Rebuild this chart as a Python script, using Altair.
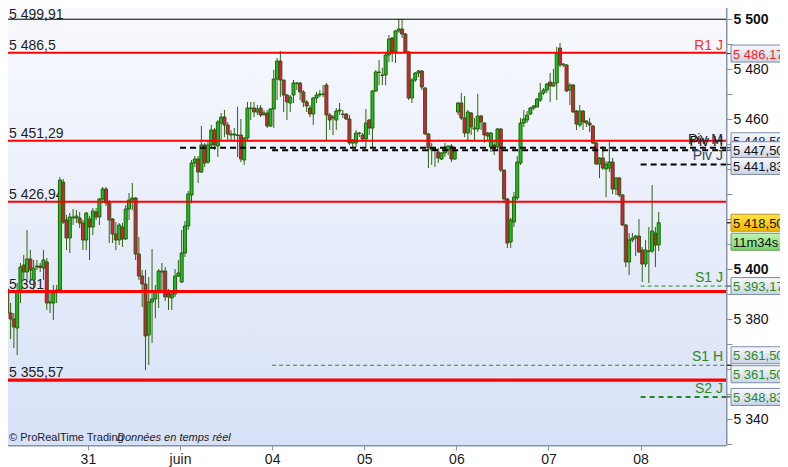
import altair as alt
import pandas as pd

FONT = "Liberation Sans"

# ---------------- candle data (30-min bars, CAC futures) ----------------
opens = [
    5398.4, 5392.0, 5382.4, 5380.0, 5376.4, 5390.8, 5401.6, 5398.8, 5404.0, 5395.6,
    5400.8, 5401.2, 5400.4, 5402.8, 5386.4, 5386.4, 5391.2, 5391.6, 5434.8, 5419.6,
    5412.4, 5420.4, 5420.4, 5420.4, 5418.4, 5411.6, 5420.0, 5416.8, 5422.8, 5420.8,
    5428.0, 5432.0, 5426.4, 5420.0, 5414.0, 5411.6, 5416.8, 5412.0, 5424.0, 5427.6,
    5428.4, 5406.0, 5397.2, 5394.0, 5373.6, 5386.8, 5388.0, 5390.8, 5398.8, 5399.2,
    5390.4, 5388.4, 5390.0, 5397.2, 5394.8, 5406.4, 5417.2, 5429.6, 5442.4, 5444.0,
    5438.8, 5449.6, 5442.8, 5449.6, 5455.6, 5449.2, 5458.4, 5460.8, 5457.6, 5454.0,
    5453.6, 5453.4, 5453.6, 5443.6, 5452.4, 5464.2, 5464.4, 5462.8, 5464.4, 5461.6,
    5462.4, 5457.2, 5464.0, 5476.0, 5483.2, 5475.6, 5469.6, 5466.4, 5469.6, 5474.2,
    5474.4, 5470.8, 5466.8, 5464.4, 5462.0, 5468.4, 5469.6, 5469.8, 5473.6, 5461.6,
    5460.4, 5459.6, 5463.2, 5461.8, 5462.0, 5460.0, 5450.4, 5450.4, 5454.2, 5453.6,
    5452.0, 5459.6, 5456.4, 5471.2, 5478.6, 5477.4, 5477.6, 5485.6, 5492.4, 5486.8,
    5495.2, 5496.0, 5494.0, 5486.8, 5468.4, 5475.6, 5478.4, 5479.2, 5472.4, 5454.0,
    5447.6, 5447.8, 5446.8, 5444.0, 5446.4, 5447.6, 5449.2, 5444.0, 5462.8, 5466.4,
    5460.4, 5454.4, 5462.4, 5456.0, 5456.0, 5461.2, 5458.4, 5454.4, 5448.8, 5449.6,
    5448.8, 5456.0, 5439.6, 5428.0, 5410.8, 5418.8, 5428.4, 5442.4, 5458.4, 5459.6,
    5462.0, 5464.4, 5464.8, 5467.6, 5470.4, 5471.6, 5474.8, 5473.2, 5474.4, 5488.4,
    5481.6, 5481.6, 5471.6, 5473.6, 5463.2, 5457.6, 5463.2, 5459.2, 5458.4, 5457.2,
    5450.4, 5442.0, 5444.4, 5440.0, 5440.4, 5442.8, 5432.0, 5436.4, 5429.6, 5417.6,
    5402.8, 5411.6, 5412.4, 5413.2, 5407.6, 5402.0, 5407.0, 5407.2, 5414.4, 5409.6,
]
highs = [
    5404.0, 5393.0, 5386.4, 5382.4, 5394.4, 5402.4, 5405.6, 5415.6, 5407.6, 5403.6,
    5403.6, 5402.4, 5407.6, 5404.4, 5391.6, 5393.6, 5393.6, 5436.8, 5436.0, 5421.6,
    5422.4, 5424.0, 5423.6, 5422.8, 5419.6, 5422.8, 5421.2, 5424.4, 5424.4, 5428.4,
    5432.8, 5432.8, 5427.6, 5420.4, 5418.8, 5418.4, 5418.4, 5425.6, 5430.4, 5434.4,
    5428.8, 5412.8, 5399.6, 5399.6, 5396.8, 5408.0, 5393.6, 5400.0, 5402.4, 5400.8,
    5392.0, 5390.8, 5400.0, 5403.6, 5415.6, 5419.2, 5431.2, 5443.6, 5445.2, 5445.2,
    5457.2, 5450.4, 5451.6, 5457.6, 5456.4, 5459.6, 5462.4, 5463.6, 5458.8, 5455.6,
    5456.4, 5464.8, 5460.0, 5452.8, 5466.8, 5466.8, 5466.8, 5465.6, 5465.6, 5463.6,
    5463.6, 5464.4, 5479.6, 5484.4, 5487.2, 5475.6, 5470.0, 5469.6, 5475.6, 5474.8,
    5474.8, 5471.6, 5467.6, 5465.6, 5468.8, 5470.8, 5471.6, 5473.6, 5474.4, 5462.4,
    5461.6, 5464.4, 5466.4, 5463.6, 5462.4, 5461.6, 5452.0, 5455.6, 5454.8, 5454.4,
    5464.0, 5460.0, 5471.6, 5479.6, 5483.6, 5480.4, 5486.4, 5493.6, 5492.8, 5495.6,
    5500.0, 5500.0, 5494.4, 5487.2, 5476.4, 5478.8, 5479.6, 5479.6, 5472.8, 5454.4,
    5450.4, 5448.8, 5448.4, 5446.8, 5450.4, 5449.6, 5450.0, 5448.4, 5466.8, 5470.4,
    5469.2, 5463.6, 5462.8, 5460.4, 5470.0, 5461.6, 5458.8, 5454.8, 5454.8, 5451.6,
    5456.4, 5456.4, 5439.6, 5428.4, 5420.4, 5430.8, 5445.2, 5460.4, 5463.6, 5463.2,
    5464.8, 5465.6, 5468.4, 5474.4, 5472.4, 5474.4, 5478.4, 5480.0, 5488.8, 5490.4,
    5482.4, 5482.0, 5474.4, 5474.0, 5463.6, 5465.6, 5463.6, 5459.6, 5460.4, 5457.6,
    5450.8, 5444.8, 5449.2, 5443.2, 5450.8, 5444.4, 5436.8, 5436.8, 5430.0, 5418.0,
    5414.4, 5414.4, 5413.6, 5420.0, 5408.8, 5411.6, 5416.8, 5433.6, 5416.8, 5422.8,
]
lows = [
    5379.6, 5377.0, 5372.0, 5368.4, 5365.6, 5386.4, 5395.6, 5395.6, 5395.6, 5391.6,
    5399.6, 5398.8, 5395.6, 5383.6, 5382.4, 5379.6, 5386.4, 5390.4, 5418.0, 5407.6,
    5406.4, 5417.6, 5418.4, 5416.4, 5407.6, 5407.6, 5403.6, 5413.6, 5419.6, 5417.6,
    5426.4, 5425.2, 5410.4, 5410.4, 5407.6, 5409.6, 5408.8, 5411.6, 5419.6, 5423.6,
    5403.6, 5395.6, 5384.8, 5359.6, 5361.6, 5370.4, 5380.4, 5384.4, 5390.4, 5387.2,
    5383.6, 5383.6, 5388.8, 5396.8, 5394.4, 5404.8, 5415.6, 5426.4, 5440.8, 5434.4,
    5438.4, 5440.8, 5442.0, 5448.8, 5447.6, 5444.8, 5451.6, 5452.8, 5451.6, 5451.6,
    5450.8, 5444.8, 5442.8, 5441.6, 5451.6, 5459.6, 5460.8, 5461.6, 5460.8, 5461.6,
    5456.4, 5456.8, 5456.4, 5467.6, 5468.8, 5462.8, 5459.6, 5462.8, 5466.4, 5471.6,
    5467.6, 5464.8, 5462.8, 5460.8, 5457.6, 5466.4, 5468.8, 5468.8, 5451.6, 5455.6,
    5453.6, 5455.6, 5461.6, 5460.4, 5459.6, 5449.6, 5448.8, 5448.8, 5452.8, 5450.8,
    5448.4, 5453.6, 5448.8, 5470.8, 5473.6, 5473.6, 5473.6, 5482.8, 5482.8, 5482.4,
    5494.4, 5492.4, 5486.4, 5467.6, 5466.4, 5474.8, 5476.8, 5471.6, 5453.6, 5440.4,
    5441.6, 5440.8, 5442.4, 5443.6, 5444.8, 5445.6, 5442.8, 5443.6, 5461.6, 5459.6,
    5452.8, 5451.6, 5453.6, 5451.6, 5454.8, 5455.6, 5450.4, 5451.6, 5446.8, 5445.6,
    5447.6, 5438.8, 5426.4, 5408.4, 5408.4, 5416.8, 5427.6, 5441.6, 5456.8, 5458.4,
    5461.6, 5463.6, 5464.8, 5466.8, 5469.6, 5470.4, 5466.8, 5472.8, 5467.6, 5480.8,
    5480.8, 5470.8, 5465.6, 5462.4, 5455.6, 5456.8, 5455.6, 5456.8, 5454.8, 5450.0,
    5441.6, 5436.4, 5439.6, 5428.8, 5438.8, 5430.0, 5429.6, 5428.8, 5417.2, 5400.8,
    5397.6, 5410.8, 5405.2, 5406.4, 5394.8, 5400.8, 5394.4, 5406.4, 5400.8, 5407.2,
]
closes = [
    5392.0, 5382.4, 5380.0, 5376.8, 5390.8, 5400.8, 5398.8, 5404.0, 5399.6, 5400.4,
    5401.2, 5400.6, 5403.6, 5386.4, 5386.8, 5390.4, 5391.6, 5435.6, 5418.8, 5412.4,
    5420.8, 5420.8, 5421.2, 5418.4, 5411.6, 5422.4, 5416.8, 5423.2, 5420.8, 5428.0,
    5432.0, 5426.4, 5419.6, 5414.0, 5411.6, 5417.6, 5412.0, 5424.0, 5427.6, 5428.4,
    5406.0, 5397.2, 5394.0, 5373.2, 5386.8, 5388.0, 5390.8, 5399.2, 5399.2, 5388.8,
    5388.8, 5390.0, 5397.2, 5398.4, 5406.4, 5417.2, 5430.0, 5442.4, 5444.0, 5438.8,
    5449.6, 5442.4, 5449.6, 5455.6, 5449.6, 5458.8, 5460.8, 5457.6, 5454.0, 5453.6,
    5454.0, 5453.6, 5444.0, 5452.4, 5464.4, 5464.4, 5462.8, 5464.0, 5461.6, 5462.4,
    5457.2, 5464.0, 5476.0, 5483.2, 5475.6, 5469.6, 5466.8, 5468.8, 5474.4, 5474.4,
    5470.8, 5466.8, 5465.2, 5462.0, 5468.4, 5469.6, 5470.0, 5470.0, 5461.6, 5459.6,
    5460.8, 5463.2, 5463.6, 5462.0, 5460.0, 5450.4, 5451.6, 5454.4, 5454.4, 5452.0,
    5458.4, 5456.4, 5471.2, 5478.8, 5478.8, 5477.6, 5485.6, 5492.0, 5486.8, 5495.2,
    5496.0, 5494.0, 5486.8, 5468.4, 5475.6, 5478.4, 5479.2, 5472.8, 5454.0, 5448.4,
    5448.4, 5448.0, 5444.4, 5446.4, 5448.8, 5449.2, 5444.0, 5447.6, 5466.4, 5460.4,
    5454.4, 5462.8, 5456.8, 5456.4, 5461.2, 5458.8, 5453.6, 5453.2, 5454.4, 5448.4,
    5456.0, 5439.6, 5428.0, 5410.4, 5419.6, 5428.8, 5442.8, 5458.4, 5460.0, 5461.6,
    5464.4, 5465.2, 5468.0, 5470.4, 5471.6, 5474.0, 5473.2, 5474.4, 5486.4, 5481.6,
    5482.0, 5471.2, 5473.6, 5462.8, 5458.0, 5463.2, 5458.8, 5458.4, 5457.6, 5450.4,
    5442.0, 5444.4, 5440.4, 5442.0, 5442.8, 5432.0, 5436.4, 5429.6, 5417.6, 5402.8,
    5411.6, 5412.4, 5413.2, 5406.8, 5402.0, 5407.6, 5407.2, 5415.2, 5409.6, 5418.5,
]

# ---------------- x axis: day boundaries ----------------
day_labels = ["31", "juin", "04", "05", "06", "07", "08"]
day_first_bar = [26, 54, 82, 110, 138, 166, 194]

# ---------------- horizontal levels ----------------
left_levels = [5499.91, 5486.5, 5451.29, 5426.94, 5391.0, 5355.57]
left_texts = ["5 499,91", "5 486,5", "5 451,29", "5 426,94", "5 391", "5 355,57"]
left_dy = [-0.5, -3, -3, -3, -3, -3]  # style: vertical nudge of each label
black_thin_levels = [5499.91]
red_levels = [5486.5, 5451.29, 5426.94]
red_thick_levels = [5391.0, 5355.57]

piv_black_values = [5448.5, 5447.5, 5441.83]
piv_black_from = ["juin", "04", "08"]
sup_thin_values = [5393.17, 5361.5]
sup_thin_from = ["08", "04"]
sup_thick_values = [5348.83]
sup_thick_from = ["08"]

tag_texts = ["R1 J", "Piv H", "Piv M", "Piv J", "S1 J", "S1 H", "S2 J"]
tag_values = [5486.17, 5447.5, 5448.5, 5441.83, 5393.17, 5361.5, 5348.83]
tag_colors = ["#ff2b2b", "#111111", "#1c2440", "#3a4258", "#2a8a22", "#2a8a22", "#2a8a22"]

box_texts = ["5 486,17", "5 448,50", "5 447,50", "5 441,83", "5 418,50", "11m34s",
             "5 393,17", "5 361,50", "5 361,50", "5 348,83"]
box_values = [5486.17, 5448.5, 5447.5, 5441.83, 5418.5, 5418.5,
              5393.17, 5361.5, 5361.5, 5348.83]
box_kinds = ["plain", "plain", "plain", "plain", "last", "timer",
             "plain", "plain", "plain", "plain"]
# styling (pixel shifts used to keep stacked tags apart, text colours)
box_shift_px = [0, -6.5, 0, 1.5, 0, 19, 0, -10, 9, 0]
box_text_colors = ["#ff2020", "#1c2440", "#111111", "#111111", "#111111", "#111111",
                   "#2a8a22", "#2a8a22", "#2a8a22", "#2a8a22"]

y_tick_values = list(range(5330, 5501, 10))
y_label_values = [5340, 5380, 5400, 5460, 5480, 5500]

# ---------------- geometry ----------------
W, H = 726, 445
PPU = 2.5  # pixels per index point on the price scale
X_DOM = [-1.2158, 219.453]
Y_DOM = [5329.6, 5507.6]

GREEN = "#14c414"
RED = "#e3173f"
OUTLINE = "#2c5a12"
WICK = "#2f6410"
AXIS_GREY = "#8794a8"

n = min(len(opens), len(highs), len(lows), len(closes))
candles = pd.DataFrame({
    "i": list(range(n)),
    "open": opens[:n], "high": highs[:n], "low": lows[:n], "close": closes[:n],
})
candles["dir"] = ["up" if c >= o else "down" for o, c in zip(candles["open"], candles["close"])]

day_ticks = [b - 0.5 for b in day_first_bar]
day_pos = dict(zip(day_labels, day_ticks))

x_label_expr = "[" + ",".join("'" + s + "'" for s in day_labels) + "][indexof([" + \
    ",".join(str(t) for t in day_ticks) + "], datum.value)]"
y_label_expr = "indexof([" + ",".join(str(v) for v in y_label_values) + \
    "], datum.value) >= 0 ? replace(format(datum.value, ','), ',', ' ') : ''"

xaxis = alt.Axis(values=day_ticks, labelExpr=x_label_expr, grid=False, title=None,
                 orient="bottom", tickSize=5, tickColor=AXIS_GREY, tickWidth=1,
                 domainColor=AXIS_GREY, domainWidth=2, labelFont=FONT, labelFontSize=14,
                 labelColor="#1a1a1a", labelPadding=2, labelFlush=False, labelOverlap=False,
                 labelFontWeight={"condition": {"test": "datum.label == 'juin'", "value": "bold"},
                                  "value": "normal"})
yaxis = alt.Axis(values=y_tick_values, labelExpr=y_label_expr, grid=False, title=None,
                 orient="right", tickSize=6, tickColor=AXIS_GREY, tickWidth=1,
                 domainColor=AXIS_GREY, domainWidth=2, labelFont=FONT, labelFontSize=14,
                 labelColor="#111111", labelPadding=1, labelFlush=False, labelOverlap=False,
                 labelBound=False, labelAlign="left", labelBaseline="middle",
                 labelFontWeight={"condition": {"test": "datum.value % 100 == 0", "value": "bold"},
                                  "value": "normal"})

xscale = alt.Scale(domain=X_DOM, nice=False, zero=False, padding=0)
yscale = alt.Scale(domain=Y_DOM, nice=False, zero=False, padding=0)


def X(f):
    return alt.X(f, type="quantitative", scale=xscale, axis=xaxis)


def Y(f):
    return alt.Y(f, type="quantitative", scale=yscale, axis=yaxis)


def grad(top, bottom):
    return {"gradient": "linear", "x1": 0, "y1": 0, "x2": 0, "y2": 1,
            "stops": [{"offset": 0, "color": top}, {"offset": 1, "color": bottom}]}


one = pd.DataFrame({"k": [0]})

background = alt.Chart(one).mark_rect(fill=grad("#f9fafe", "#d7e1f7")).encode(
    x=alt.value(0), x2=alt.value("width"), y=alt.value(0), y2=alt.value("height"))

left_df = pd.DataFrame({"v": left_levels, "t": left_texts, "d": left_dy})
left_lab = alt.Chart(left_df).transform_calculate(
    vv=f"datum.v - datum.d / {PPU}"
).mark_text(align="left", baseline="alphabetic", font=FONT, fontSize=14, color="#1e1e1e").encode(
    x=alt.value(9), y=Y("vv"), text="t:N")

wicks = alt.Chart(candles).mark_rule(color=WICK, strokeWidth=1).encode(
    x=X("i"), y=Y("low"), y2="high")
bodies = alt.Chart(candles).mark_bar(size=3, stroke=OUTLINE, strokeWidth=1).encode(
    x=X("i"), y=Y("open"), y2="close",
    fill=alt.Fill("dir:N", scale=alt.Scale(domain=["up", "down"], range=[GREEN, RED]), legend=None))

blk = alt.Chart(pd.DataFrame({"v": black_thin_levels})).mark_rule(
    color="#000000", strokeWidth=1).encode(y=Y("v"))
red = alt.Chart(pd.DataFrame({"v": red_levels})).mark_rule(
    color="#ff0000", strokeWidth=2).encode(y=Y("v"))
red_thick = alt.Chart(pd.DataFrame({"v": red_thick_levels})).mark_rule(
    color="#ff0000", strokeWidth=3.2).encode(y=Y("v"))

piv_df = pd.DataFrame({"v": piv_black_values, "s": [day_pos[d] for d in piv_black_from]})
piv = alt.Chart(piv_df).mark_rule(color="#000000", strokeWidth=2, strokeDash=[6, 4]).encode(
    x=X("s"), x2=alt.value("width"), y=Y("v"))
sthin_df = pd.DataFrame({"v": sup_thin_values, "s": [day_pos[d] for d in sup_thin_from]})
sthin = alt.Chart(sthin_df).mark_rule(color="#1f8a1f", strokeWidth=1, strokeDash=[4, 3]).encode(
    x=X("s"), x2=alt.value("width"), y=Y("v"))
sthick_df = pd.DataFrame({"v": sup_thick_values, "s": [day_pos[d] for d in sup_thick_from]})
sthick = alt.Chart(sthick_df).mark_rule(color="#1f8a1f", strokeWidth=2, strokeDash=[5, 4]).encode(
    x=X("s"), x2=alt.value("width"), y=Y("v"))

tag_df = pd.DataFrame({"v": tag_values, "t": tag_texts, "c": tag_colors})
tags = alt.Chart(tag_df).mark_text(align="right", baseline="alphabetic", dy=-4,
                                   font=FONT, fontSize=14).encode(
    x=alt.value(723), y=Y("v"), text="t:N", color=alt.Color("c:N", scale=None))

box_df = pd.DataFrame({"v": box_values, "t": box_texts, "k": box_kinds,
                       "sh": box_shift_px, "c": box_text_colors,
                       "order": list(range(len(box_texts)))})
box_base = alt.Chart(box_df).transform_calculate(
    cy=f"datum.v - datum.sh / {PPU}",
).transform_calculate(
    top=f"datum.cy + 8.5 / {PPU}", bot=f"datum.cy - 8.5 / {PPU}")

BOX_STYLE = {
    "plain": ("#f7f9fd", "#c9d4e8", "#7c8ca6"),
    "last": ("#ffe640", "#f2b400", "#b8952a"),
    "timer": ("#c4f4b4", "#78d46a", "#6a9e5e"),
}

# each box is drawn together with its text, so a box drawn later hides the text below
box_layers = []
for k_idx, kind in enumerate(box_kinds):
    top, bottom, stroke = BOX_STYLE[kind]
    sub = box_base.transform_filter(f"datum.order == {k_idx}")
    box_layers.append(sub.mark_rect(fill=grad(top, bottom), stroke=stroke, strokeWidth=1).encode(
        x=alt.value(731), x2=alt.value(800), y=Y("top"), y2="bot"))
    box_layers.append(sub.mark_text(align="left", baseline="middle", dy=1, font=FONT,
                                    fontSize=13).encode(
        x=alt.value(733), y=Y("cy"), text="t:N", color=alt.Color("c:N", scale=None)))

mark_ticks = alt.Chart(pd.DataFrame({"v": box_values})).mark_rule(
    color="#222222", strokeWidth=1).encode(x=alt.value(727), x2=alt.value(732), y=Y("v"))

credit1 = alt.Chart(one).mark_text(align="left", baseline="middle", font=FONT, fontSize=11,
                                   color="#222222", text="© ProRealTime Trading").encode(
    x=alt.value(9), y=alt.value(438))
credit2 = alt.Chart(one).mark_text(align="left", baseline="middle", font=FONT, fontSize=11,
                                   fontStyle="italic", color="#222222",
                                   text="Données en temps réel").encode(
    x=alt.value(117), y=alt.value(438))

chart = alt.layer(
    background, left_lab, wicks, bodies, blk, red, red_thick, piv, sthin, sthick, tags,
    mark_ticks, *box_layers, credit1, credit2,
).properties(
    width=W, height=H,
    padding={"left": -8, "top": -8, "right": 54, "bottom": 22},
    autosize=alt.AutoSizeParams(type="none"),
).configure_view(stroke=None).configure(background="white")

chart.save("out.html", embed_options={"renderer": "svg", "actions": False})
